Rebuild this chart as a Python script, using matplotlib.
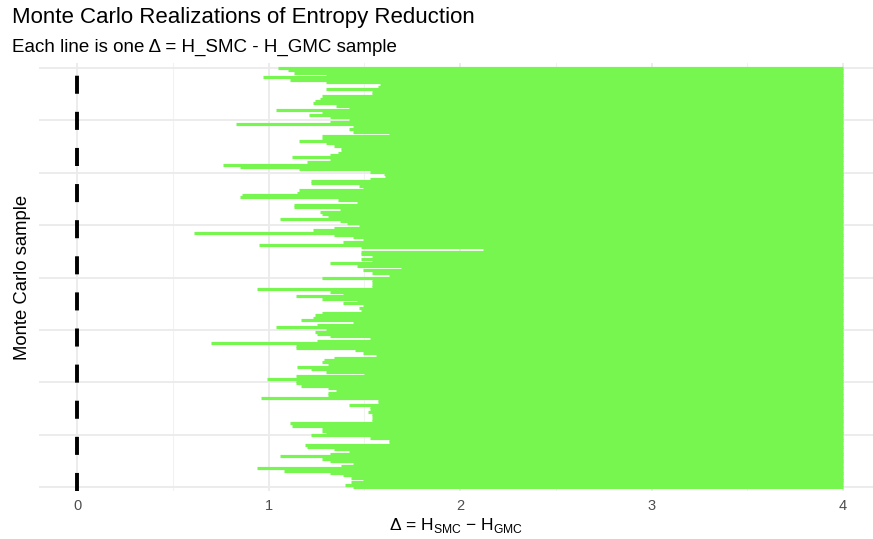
import numpy as np
import matplotlib
matplotlib.use("Agg")
import matplotlib.pyplot as plt

plt.rcParams['font.family'] = ['Liberation Sans', 'DejaVu Sans']
plt.rcParams['mathtext.fontset'] = 'custom'
plt.rcParams['mathtext.rm'] = 'Liberation Sans'
plt.rcParams['lines.scale_dashes'] = False

# Monte Carlo delta samples, read top row to bottom row of the chart
delta_top_down = [
    1.05, 1.10, 1.13, 1.30, 0.97, 1.11, 1.30, 1.58, 1.57, 1.30,
    1.54, 1.54, 1.28, 1.27, 1.24, 1.23, 1.35, 1.42, 1.04, 1.28,
    1.21, 1.32, 1.42, 1.32, 0.83, 1.44, 1.42, 1.44, 1.63, 1.28,
    1.28, 1.16, 1.30, 1.34, 1.38, 1.38, 1.36, 1.32, 1.12, 1.32,
    1.20, 0.76, 0.85, 1.16, 1.53, 1.60, 1.61, 1.53, 1.22, 1.22,
    1.47, 1.49, 1.16, 1.15, 0.86, 0.85, 1.36, 1.46, 1.13, 1.13,
    1.37, 1.27, 1.28, 1.31, 1.06, 1.37, 1.41, 1.47, 1.34, 1.23,
    0.61, 1.34, 1.44, 1.49, 1.39, 0.95, 1.48, 2.12, 1.48, 1.48,
    1.54, 1.48, 1.54, 1.32, 1.46, 1.69, 1.49, 1.54, 1.63, 1.28,
    1.54, 1.54, 1.54, 1.54, 0.94, 1.32, 1.39, 1.14, 1.28, 1.46,
    1.39, 1.49, 1.47, 1.48, 1.28, 1.24, 1.23, 1.17, 1.44, 1.25,
    1.04, 1.30, 1.24, 1.25, 1.32, 1.53, 1.25, 0.70, 1.14, 1.14,
    1.45, 1.49, 1.56, 1.34, 1.29, 1.28, 1.31, 1.15, 1.22, 1.30,
    1.50, 1.14, 0.99, 1.14, 1.14, 1.17, 1.31, 1.35, 1.31, 1.31,
    0.96, 1.57, 1.57, 1.42, 1.53, 1.53, 1.52, 1.54, 1.54, 1.54,
    1.54, 1.11, 1.12, 1.28, 1.28, 1.30, 1.22, 1.53, 1.63, 1.63,
    1.19, 1.20, 1.34, 1.42, 1.32, 1.06, 1.28, 1.32, 1.44, 1.38,
    0.94, 1.08, 1.32, 1.39, 1.43, 1.49, 1.43, 1.40, 1.44,
]
segment_end = 4.0
x_ticks = [0, 1, 2, 3, 4]

n = len(delta_top_down)
sample = np.arange(n, 0, -1)
delta = np.array(delta_top_down)

W, H = 873, 539
fig = plt.figure(figsize=(W / 100, H / 100), dpi=100)
ax = fig.add_axes([39 / W, 1 - 491 / H, 1 - 39 / W, (491 - 63) / H])

# row spacing in pixels -> y limits that match the panel padding
row_px = (487 - 68) / (n - 1)
ax.set_ylim(1 - 4 / row_px, n + 5 / row_px)
ax.set_xlim(-0.2, (873 - 77) / 191.5)

ax.set_xticks(x_ticks)
ax.set_xticks([0.5, 1.5, 2.5, 3.5], minor=True)
ax.set_yticks(np.linspace(1, n, 9))
ax.set_yticklabels([])
ax.grid(True, which='major', color='#EBEBEB', linewidth=1.3)
ax.grid(True, which='minor', axis='x', color='#F2F2F2', linewidth=0.8)
ax.set_axisbelow(True)
ax.tick_params(length=0, which='both')
ax.tick_params(axis='x', colors='#4D4D4D', labelsize=10.5, pad=6)
for s in ax.spines.values():
    s.set_visible(False)

lw_pt = row_px * 72 / 100 * 1.35
ax.hlines(sample, delta, segment_end, color='#76F64F', linewidth=lw_pt,
          capstyle='butt', zorder=2)

ylo, yhi = ax.get_ylim()
ax.plot([0, 0], [ylo, yhi], color='black', linewidth=2.8,
        dashes=(13, 13), solid_capstyle='butt', dash_capstyle='butt', zorder=3)

ax.set_xlabel('Δ = H$_{\\mathrm{SMC}}$ − H$_{\\mathrm{GMC}}$', fontsize=12.5, labelpad=2)
ax.set_ylabel('Monte Carlo sample', fontsize=13.3, labelpad=2)

fig.text(12 / W, 1 - 17 / H, 'Monte Carlo Realizations of Entropy Reduction',
         fontsize=16, va='center', ha='left')
fig.text(12 / W, 1 - 47 / H, 'Each line is one Δ = H_SMC - H_GMC sample',
         fontsize=13.5, va='center', ha='left')

fig.savefig('out.png', dpi=100)
